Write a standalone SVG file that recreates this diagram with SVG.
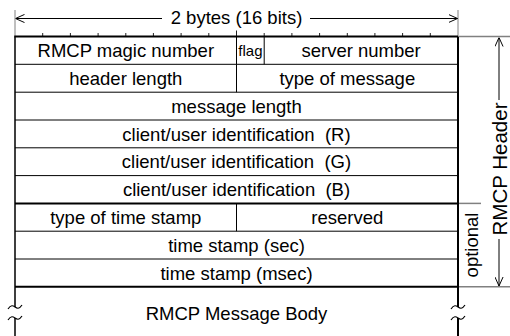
<svg xmlns="http://www.w3.org/2000/svg" width="510" height="336" viewBox="0 0 510 336">
<defs>
<marker id="ah" viewBox="0 0 10 10" refX="10" refY="5" markerWidth="9" markerHeight="9" markerUnits="userSpaceOnUse" orient="auto-start-reverse">
<path d="M0,0.5 L10,5 L0,9.5" fill="none" stroke="#000" stroke-width="1.1"/>
</marker>
<style>
text{font-family:"Liberation Sans",Arial,sans-serif;font-size:18.5px;fill:#000;text-anchor:middle;white-space:pre}
.thin{stroke:#000;stroke-width:1;fill:none}
.thick{stroke:#000;stroke-width:2;fill:none}
.gray{stroke:#808080;stroke-width:1.5;fill:none}
.tick{stroke:#222;stroke-width:1;fill:none}
.conn{stroke:#000;stroke-width:1;fill:none}
</style>
</defs>
<rect width="510" height="336" fill="#fff"/>

<g id="ruler">
<line class="gray" x1="15" y1="10" x2="15" y2="36.5" style="stroke-width:1"/>
<line class="gray" x1="458" y1="10" x2="458" y2="36.5" style="stroke-width:1"/>
<path class="tick" d="M42.7,33V36.5M70.4,33V36.5M98.1,33V36.5M125.8,33V36.5M153.4,33V36.5M181.1,33V36.5M208.8,33V36.5M236.5,30.5V36.5M264.2,33V36.5M291.9,33V36.5M319.6,33V36.5M347.3,33V36.5M374.9,33V36.5M402.6,33V36.5M430.3,33V36.5"/>
</g>

<g id="frame">
<path class="thin" d="M15,36.5V307M15,318V336" style="stroke-width:1.5"/>
<path class="thin" d="M458,36.5V307M458,318V336" style="stroke-width:2"/>
<path class="thin" d="M8,309C11,304.5 13,305.5 15,307S19,309.5 22,305" style="stroke-width:1.2"/>
<path class="thin" d="M8,320C11,315.5 13,316.5 15,318S19,320.5 22,316" style="stroke-width:1.2"/>
<path class="thin" d="M451,309C454,304.5 456,305.5 458,307S462,309.5 465,305" style="stroke-width:1.2"/>
<path class="thin" d="M451,320C454,315.5 456,316.5 458,318S462,320.5 465,316" style="stroke-width:1.2"/>
<line class="thick" x1="14.25" y1="36.5" x2="458" y2="36.5"/>
<line class="thin" x1="15" y1="64.3" x2="458" y2="64.3"/>
<line class="thin" x1="15" y1="92.2" x2="458" y2="92.2"/>
<line class="thin" x1="15" y1="120" x2="458" y2="120"/>
<line class="thin" x1="15" y1="147.8" x2="458" y2="147.8"/>
<line class="thin" x1="15" y1="175.6" x2="458" y2="175.6"/>
<line class="thick" x1="15" y1="203.4" x2="458" y2="203.4"/>
<line class="thin" x1="15" y1="231.2" x2="458" y2="231.2"/>
<line class="thin" x1="15" y1="259" x2="458" y2="259"/>
<line class="thick" x1="15" y1="286.8" x2="458" y2="286.8"/>
<line class="gray" x1="459" y1="36.5" x2="510" y2="36.5"/>
<line class="gray" x1="459" y1="203.4" x2="481" y2="203.4"/>
<line class="gray" x1="459" y1="286.8" x2="510" y2="286.8"/>
</g>

<g id="magic-number"><text x="125.8" y="57">RMCP magic number</text></g>
<g id="flag"><line class="thin" x1="236.5" y1="36.5" x2="236.5" y2="64.3"/><text x="250.4" y="56.3" style="font-size:15px">flag</text></g>
<g id="server-number"><line class="thin" x1="264.2" y1="36.5" x2="264.2" y2="64.3"/><text x="361.1" y="57">server number</text></g>
<g id="header-length"><text x="125.8" y="84.8">header length</text></g>
<g id="type-of-message"><line class="thin" x1="236.5" y1="64.3" x2="236.5" y2="92.2"/><text x="347.3" y="84.8">type of message</text></g>
<g id="message-length"><text x="236.5" y="112.7">message length</text></g>
<g id="client-r"><text x="236.5" y="140.5">client/user identification  (R)</text></g>
<g id="client-g"><text x="236.5" y="168.3">client/user identification  (G)</text></g>
<g id="client-b"><text x="236.5" y="196.1">client/user identification  (B)</text></g>
<g id="type-of-time-stamp"><text x="125.8" y="223.9">type of time stamp</text></g>
<g id="reserved"><line class="thin" x1="236.5" y1="203.4" x2="236.5" y2="231.2"/><text x="347.3" y="223.9">reserved</text></g>
<g id="time-stamp-sec"><text x="236.5" y="251.7">time stamp (sec)</text></g>
<g id="time-stamp-msec"><text x="236.5" y="279.5">time stamp (msec)</text></g>
<g id="message-body"><text x="236.5" y="320">RMCP Message Body</text></g>
<g id="optional-label"><text transform="translate(477.5,245) rotate(-90)">optional</text></g>
<g id="header-label"><text transform="translate(506.5,169) rotate(-90)" style="font-size:20.5px">RMCP Header</text></g>
<g id="width-label"><text x="236.5" y="23.5">2 bytes (16 bits)</text></g>

<g id="connectors">
<line class="conn" x1="162" y1="18.5" x2="15.5" y2="18.5" marker-end="url(#ah)"/>
<line class="conn" x1="310" y1="18.5" x2="457.5" y2="18.5" marker-end="url(#ah)"/>
<line class="conn" x1="499" y1="100" x2="499" y2="37.5" marker-end="url(#ah)"/>
<line class="conn" x1="499" y1="239" x2="499" y2="286" marker-end="url(#ah)"/>
</g>
</svg>
